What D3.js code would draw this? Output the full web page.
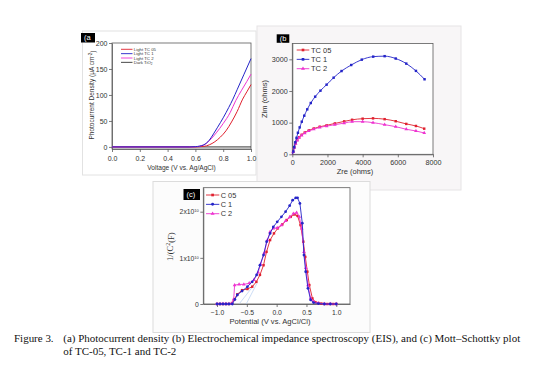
<!DOCTYPE html>
<meta charset="utf-8">
<script src="https://d3js.org/d3.v7.min.js"></script>
<style>
  body { margin: 0; background: #fff; }
  svg text { font-family: "Liberation Sans", Arial, sans-serif; fill: #333; }
</style>
<div id="fig"></div>
<script>

// ---- panel (a): photocurrent density, [voltage V, current uA/cm2]
const lightTC05 = [[0,0],[0.6,0],[0.62,0.3],[0.66,1],[0.70,4],[0.74,10],[0.78,19],[0.82,31],[0.86,48],[0.90,68],[0.94,92],[0.97,106],[1.0,120]];
const lightTC1  = [[0,0],[0.56,0],[0.6,0.5],[0.63,1.5],[0.66,4],[0.70,13],[0.73,25],[0.76,38],[0.80,56],[0.84,76],[0.87,92],[0.90,110],[0.95,140],[1.0,170]];
const lightTC2  = [[0,0],[0.58,0],[0.61,0.5],[0.64,2],[0.67,5],[0.70,12],[0.75,27],[0.80,45],[0.85,66],[0.89,89],[0.93,108],[0.97,126],[1.0,140]];
const darkTiO2  = [[0,0],[1.0,0]];
const aXTicks = [0, 0.2, 0.4, 0.6, 0.8, 1.0];
const aYTicks = [0, 50, 100, 150, 200];

// ---- panel (b): EIS Nyquist, [Zre, Zim] ohms
const tc05B = [[50,80],[110,220],[190,350],[280,455],[390,540],[530,615],[710,690],[940,755],[1220,815],[1560,870],[1950,915],[2420,975],[2950,1040],[3400,1090],[4000,1125],[4590,1135],[5250,1110],[5880,1045],[6480,960],[7030,895],[7500,810]];
const tc1B  = [[60,90],[110,230],[170,380],[240,520],[320,680],[420,850],[540,1030],[680,1220],[850,1420],[1050,1620],[1300,1820],[1600,2010],[1950,2200],[2350,2420],[2800,2630],[3350,2820],[3950,2990],[4600,3085],[5250,3100],[5880,3025],[6480,2865],[7030,2635],[7520,2370]];
const tc2B  = [[50,75],[110,210],[190,335],[280,440],[390,525],[530,600],[710,670],[940,735],[1220,795],[1560,850],[1950,890],[2420,935],[2950,985],[3400,1030],[4000,1030],[4590,1000],[5250,937],[5880,873],[6480,791],[7030,737],[7500,674]];
const bXTicks = [0, 2000, 4000, 6000, 8000];
const bYTicks = [0, 1000, 2000, 3000];

// ---- panel (c): Mott-Schottky, [potential V, 1/C^2 in units of 1e10]
const c05C = [[-1.0,0],[-0.95,0],[-0.9,0],[-0.85,0],[-0.8,0],[-0.75,0.02],[-0.716,0.09],[-0.66,0.21],[-0.58,0.30],[-0.49,0.325],[-0.41,0.375],[-0.34,0.48],[-0.28,0.63],[-0.22,0.84],[-0.17,1.13],[-0.11,1.385],[-0.045,1.53],[0.02,1.64],[0.095,1.725],[0.17,1.82],[0.235,1.89],[0.30,1.94],[0.35,1.91],[0.40,1.71],[0.447,1.35],[0.48,1.02],[0.515,0.70],[0.548,0.41],[0.60,0.12],[0.65,0.04],[0.7,0.02],[0.75,0.01],[0.8,0],[0.85,0],[0.9,0],[0.95,0],[1.0,0]];
const c1C  = [[-1.0,0],[-0.95,0],[-0.9,0],[-0.85,0],[-0.8,0],[-0.743,0],[-0.70,0.1],[-0.66,0.195],[-0.58,0.28],[-0.49,0.375],[-0.41,0.48],[-0.336,0.63],[-0.28,0.84],[-0.22,1.06],[-0.168,1.35],[-0.11,1.53],[-0.056,1.67],[0.01,1.78],[0.08,1.89],[0.15,2.0],[0.218,2.13],[0.268,2.25],[0.32,2.30],[0.35,2.30],[0.39,2.18],[0.43,1.75],[0.458,1.06],[0.487,0.70],[0.525,0.34],[0.57,0.087],[0.62,0.03],[0.7,0.01],[0.8,0],[0.9,0],[1.0,0]];
const c2C  = [[-1.0,0],[-0.95,0],[-0.9,0],[-0.85,0],[-0.8,0],[-0.75,0.01],[-0.72,0.1],[-0.705,0.41],[-0.63,0.425],[-0.55,0.425],[-0.46,0.45],[-0.38,0.52],[-0.31,0.686],[-0.27,0.86],[-0.21,1.1],[-0.156,1.385],[-0.11,1.565],[-0.056,1.64],[0.01,1.65],[0.08,1.71],[0.15,1.80],[0.218,1.88],[0.28,1.96],[0.335,1.98],[0.38,1.89],[0.42,1.64],[0.458,1.13],[0.49,0.78],[0.525,0.41],[0.57,0.12],[0.62,0.05],[0.7,0.02],[0.8,0],[0.9,0],[1.0,0]];
const tangentsC = [[[-0.63,0],[-0.38,0.41]], [[-0.51,0],[-0.33,0.45]]];
const cXTicks = [-1.0, -0.5, 0.0, 0.5, 1.0];
const cYTicks = [0, 1, 2];

const RED = "#e0202e", BLUE = "#2424c8", MAG = "#ee33d0";
const SERIF = "'Liberation Serif', 'Times New Roman', serif";

const svg = d3.select("#fig").append("svg")
    .attr("width", 554)
    .attr("height", 384);

// panel boxes
svg.append("rect").attr("x", 82.5).attr("y", 31).attr("width", 173.5).attr("height", 144)
    .attr("fill", "#fff").attr("stroke", "#e2e2e2");
svg.append("rect").attr("x", 257).attr("y", 26).attr("width", 204).attr("height", 164)
    .attr("fill", "#f8f6f7").attr("stroke", "#e6e4e5");
svg.append("rect").attr("x", 153).attr("y", 181.5).attr("width", 217).attr("height", 151)
    .attr("fill", "#fcfcfc").attr("stroke", "#dcdcdc");

function frame(x, y) {
  const [x0, x1] = x.range(), [y1, y0] = y.range();
  svg.append("rect").attr("x", x0).attr("y", y0).attr("width", x1 - x0).attr("height", y1 - y0)
      .attr("fill", "#fff").attr("stroke", "#5a5a5a").attr("stroke-width", 0.8);
}

function axes(x, y, xt, yt, fs, xfmt, yfmt, padX, padY) {
  const gx = svg.append("g").attr("transform", `translate(0, ${y.range()[0]})`)
      .call(d3.axisBottom(x).tickValues(xt).tickFormat(xfmt).tickSize(3).tickSizeOuter(0).tickPadding(padX));
  const gy = svg.append("g").attr("transform", `translate(${x.range()[0]}, 0)`)
      .call(d3.axisLeft(y).tickValues(yt).tickFormat(yfmt).tickSize(3).tickSizeOuter(0).tickPadding(padY));
  [gx, gy].forEach(g => {
    g.select(".domain").attr("stroke", "#5a5a5a").attr("stroke-width", 0.8);
    g.selectAll(".tick line").attr("stroke", "#5a5a5a").attr("stroke-width", 0.8);
    g.selectAll("text").style("font-size", fs + "px").attr("fill", "#333");
  });
  return [gx, gy];
}

function tag(x, y, w, h, label) {
  svg.append("rect").attr("x", x).attr("y", y).attr("width", w).attr("height", h).attr("fill", "#000");
  svg.append("text").attr("x", x + 3).attr("y", y + h / 2).attr("dy", "0.35em")
      .style("font-size", "7.5px").style("fill", "#fff").text(label);
}

// ================= (a)
{
  const x = d3.scaleLinear().domain([0, 1]).range([112, 251]);
  const y = d3.scaleLinear().domain([-4, 200]).range([149, 43]);
  frame(x, y);
  axes(x, y, aXTicks, aYTicks, 7, d3.format(".1f"), d3.format("d"), 4.5, 1.5);
  const line = d3.line().x(d => x(d[0])).y(d => y(d[1])).curve(d3.curveMonotoneX);
  const series = [[darkTiO2, "#333"], [lightTC05, RED], [lightTC2, MAG], [lightTC1, BLUE]];
  series.forEach(([d, c]) => svg.append("path").datum(d).attr("d", line)
      .attr("fill", "none").attr("stroke", c).attr("stroke-width", 1));

  const leg = [["Light TC 05", RED], ["Light TC 1", BLUE], ["Light TC 2", MAG], ["Dark TiO", "#333"]];
  leg.forEach(([t, c], i) => {
    const yy = 49.3 + i * 4.35;
    svg.append("line").attr("x1", 121).attr("x2", 132.5).attr("y1", yy).attr("y2", yy)
        .attr("stroke", c).attr("stroke-width", 0.9);
    const tx = svg.append("text").attr("x", 133.8).attr("y", yy).attr("dy", "0.35em")
        .style("font-size", "4.3px").text(t);
    if (i === 3) tx.append("tspan").attr("dy", "0.25em").style("font-size", "3px").text("2");
  });

  svg.append("text").attr("x", 181.5).attr("y", 168).attr("dy", "0.35em").attr("text-anchor", "middle")
      .style("font-size", "6.6px").text("Voltage (V vs. Ag/AgCl)");
  const yt = svg.append("text").attr("transform", "translate(92, 95) rotate(-90)").attr("dy", "0.35em")
      .attr("text-anchor", "middle").style("font-size", "6.5px").text("Photocurrent Density (μA cm");
  yt.append("tspan").attr("dy", "-0.4em").style("font-size", "4.5px").text("-2");
  yt.append("tspan").attr("dy", "0.4em").text(")");
  tag(81, 33, 14, 9.5, "(a");
}

// ================= (b)
{
  const x = d3.scaleLinear().domain([0, 8000]).range([292.3, 433]);
  const y = d3.scaleLinear().domain([0, 3500]).range([154.3, 43.5]);
  frame(x, y);
  axes(x, y, bXTicks, bYTicks, 7.2, d3.format("d"), d3.format("d"), 2.5, 1.5);
  const line = d3.line().x(d => x(d[0])).y(d => y(d[1])).curve(d3.curveMonotoneX);
  const series = [[tc05B, RED, d3.symbolSquare], [tc2B, MAG, d3.symbolTriangle], [tc1B, BLUE, d3.symbolSquare]];
  series.forEach(([d, c, s]) => {
    svg.append("path").datum([[0, 0]].concat(d)).attr("d", line)
        .attr("fill", "none").attr("stroke", c).attr("stroke-width", 0.9);
    svg.append("g").selectAll("path").data(d).join("path")
        .attr("transform", p => `translate(${x(p[0])}, ${y(p[1])})`)
        .attr("d", d3.symbol().type(s).size(6)).attr("fill", c);
  });
  const leg = [["TC 05", RED, d3.symbolSquare], ["TC 1", BLUE, d3.symbolSquare], ["TC 2", MAG, d3.symbolTriangle]];
  leg.forEach(([t, c, s], i) => {
    const yy = 50 + i * 9.35;
    svg.append("line").attr("x1", 296.7).attr("x2", 309.3).attr("y1", yy).attr("y2", yy)
        .attr("stroke", c).attr("stroke-width", 0.9);
    svg.append("path").attr("transform", `translate(303, ${yy})`)
        .attr("d", d3.symbol().type(s).size(7)).attr("fill", c);
    svg.append("text").attr("x", 311).attr("y", yy).attr("dy", "0.35em")
        .style("font-size", "7.5px").text(t);
  });
  svg.append("text").attr("x", 355).attr("y", 171.5).attr("dy", "0.35em").attr("text-anchor", "middle")
      .style("font-size", "7.5px").text("Zre (ohms)");
  svg.append("text").attr("transform", "translate(264, 99) rotate(-90)").attr("dy", "0.35em")
      .attr("text-anchor", "middle").style("font-size", "7.5px").text("Zim (ohms)");
  tag(276.7, 34.3, 12.6, 8.5, "(b");
}

// ================= (c)
{
  const x = d3.scaleLinear().domain([-1.23, 1.23]).range([203.3, 350]);
  const y = d3.scaleLinear().domain([0, 2.52]).range([304, 187.7]);
  frame(x, y);
  const [, gy] = axes(x, y, cXTicks, cYTicks, 6.8, d3.format(".1f"), d => d === 0 ? "0" : d + "x10", 3, 1.5);
  gy.selectAll(".tick text").filter(d => d !== 0)
      .append("tspan").attr("dy", "-0.5em").style("font-size", "4px").text("10");

  tangentsC.forEach(t => svg.append("line")
      .attr("x1", x(t[0][0])).attr("y1", y(t[0][1])).attr("x2", x(t[1][0])).attr("y2", y(t[1][1]))
      .attr("stroke", "#a9c6ee").attr("stroke-width", 0.6));

  const line = d3.line().x(d => x(d[0])).y(d => y(d[1]));
  const series = [[c05C, RED, d3.symbolSquare], [c2C, MAG, d3.symbolTriangle], [c1C, BLUE, d3.symbolCircle]];
  series.forEach(([d, c, s]) => {
    svg.append("path").datum(d).attr("d", line)
        .attr("fill", "none").attr("stroke", c).attr("stroke-width", 0.9);
    svg.append("g").selectAll("path").data(d).join("path")
        .attr("transform", p => `translate(${x(p[0])}, ${y(p[1])})`)
        .attr("d", d3.symbol().type(s).size(6)).attr("fill", c);
  });
  const leg = [["C 05", RED, d3.symbolSquare], ["C 1", BLUE, d3.symbolCircle], ["C 2", MAG, d3.symbolTriangle]];
  leg.forEach(([t, c, s], i) => {
    const yy = 195 + i * 9.35;
    svg.append("line").attr("x1", 206).attr("x2", 219.3).attr("y1", yy).attr("y2", yy)
        .attr("stroke", c).attr("stroke-width", 0.9);
    svg.append("path").attr("transform", `translate(212.6, ${yy})`)
        .attr("d", d3.symbol().type(s).size(7)).attr("fill", c);
    svg.append("text").attr("x", 220.7).attr("y", yy).attr("dy", "0.35em")
        .style("font-size", "7.4px").text(t);
  });
  svg.append("text").attr("x", 270).attr("y", 321.7).attr("dy", "0.35em").attr("text-anchor", "middle")
      .style("font-size", "7.6px").text("Potential (V vs. AgCl/Cl)");
  const yt = svg.append("text").attr("transform", "translate(170, 246.7) rotate(-90)").attr("dy", "0.35em")
      .attr("text-anchor", "middle").style("font-family", SERIF).style("font-size", "8.5px")
      .text("1/(C");
  yt.append("tspan").attr("dy", "-0.45em").style("font-size", "6px").text("2");
  yt.append("tspan").attr("dy", "0.45em").text("(F)");
  tag(183.5, 189, 16.5, 11, "(c)");
}

// ================= caption
const capSize = 9.6;
function capText(x, y, t) {
  return svg.append("text").attr("x", x).attr("y", y)
      .style("font-family", SERIF).style("font-size", capSize + "px").style("fill", "#111").text(t);
}
capText(14, 341.5, "Figure 3.");
const l1 = capText(63.3, 341.5, "(a) Photocurrent density (b) Electrochemical impedance spectroscopy (EIS), and (c) Mott\u2013Schottky plot");
capText(63.3, 355, "of TC-05, TC-1 and TC-2");
// fit the first caption line to the width it has in the figure
const k = 457 / l1.node().getComputedTextLength();
svg.selectAll("text").filter(function() { return this.style.fontFamily.includes("Serif") && this.getAttribute("y") > 330; })
    .style("font-size", (capSize * k) + "px");

</script>
